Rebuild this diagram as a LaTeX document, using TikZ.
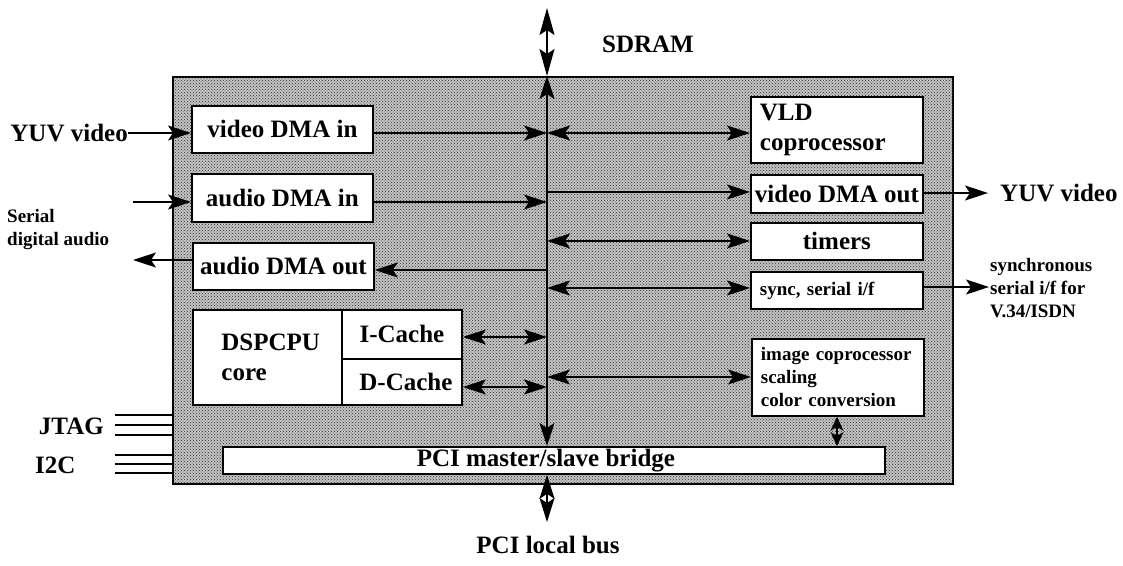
\documentclass[tikz,border=0pt]{standalone}
\usepackage{fontspec}
\setmainfont{Liberation Serif}
\usetikzlibrary{arrows.meta,patterns}

\begin{document}
\begin{tikzpicture}[x=1pt,y=-1pt,
  big/.style={font=\fontsize{25}{30}\selectfont\bfseries},
  small/.style={font=\fontsize{19}{23}\selectfont\bfseries},
  unit/.style={draw,line width=1.8pt,fill=white,inner sep=0pt,anchor=north west},
  tag/.style={inner sep=0pt},
  head/.tip={Stealth[length=23pt,width=15pt,inset=5pt]},
  link/.style={line width=1.4pt,-head},
  dlink/.style={line width=1.4pt,head-head},
  wire/.style={line width=1.4pt}
]
\useasboundingbox (0,0) rectangle (1123,565);

% chip outline with a halftone fill
\node[draw,line width=1.8pt,fill=black!24,inner sep=0pt,anchor=north west,
      minimum width=780pt,minimum height=407pt] (chip) at (172,76) {};
\fill[pattern=crosshatch dots,pattern color=black!80]
      ([shift={(1pt,-1pt)}]chip.north west) rectangle ([shift={(-1pt,1pt)}]chip.south east);

% left column units
\node[unit,big,minimum width=181pt,minimum height=47pt] (vin) at (191,105) {video DMA in};
\node[unit,big,minimum width=181pt,minimum height=48pt] (ain) at (191,173) {audio DMA in};
\node[unit,big,minimum width=181pt,minimum height=47pt] (aout) at (192,242) {audio DMA out};

% CPU core with caches
\node[unit,big,minimum width=149pt,minimum height=95pt,text width=120pt,align=left,
      inner xsep=0pt] (cpu) at (192,309) {\hspace*{14pt}DSPCPU\\\hspace*{14pt}core};
\node[unit,big,minimum width=120pt,minimum height=49pt] (icache) at (341,309) {I-Cache};
\node[unit,big,minimum width=120pt,minimum height=46pt] (dcache) at (341,358) {\hspace*{8pt}D-Cache};

% PCI bridge
\node[unit,big,minimum width=662pt,minimum height=27pt] (bridge) at (222,446) {\hspace*{-16pt}PCI master/slave bridge};

% right column units
\node[unit,big,minimum width=172pt,minimum height=66pt,text width=160pt,align=left,
      inner xsep=0pt] (vld) at (750,96) {\hspace*{3pt}VLD\\\hspace*{3pt}coprocessor};
\node[unit,big,minimum width=172pt,minimum height=38pt] (vout) at (750,174) {video DMA out};
\node[unit,big,minimum width=172pt,minimum height=37pt] (timers) at (750,222) {timers};
\node[unit,small,minimum width=172pt,minimum height=37pt,text width=160pt,align=left]
      (sync) at (750,271) {\hspace*{3pt}sync, serial i/f};
\node[unit,small,minimum width=172pt,minimum height=77pt,text width=160pt,align=left]
      (img) at (751,338) {\hspace*{3pt}image coprocessor\\\hspace*{3pt}scaling\\\hspace*{3pt}color conversion};

% internal bus
\coordinate (bustop) at (547,76);
\coordinate (sdtip) at (547,8);
\coordinate (pcitip) at (547,522);
\draw[line width=1.6pt,head-head] (bustop) -- (bustop |- bridge.north);
\draw[line width=1.2pt,{Stealth[length=27pt,width=15pt,inset=5pt]}-{Stealth[length=27pt,width=15pt,inset=5pt]}]
      (sdtip) -- (bustop);
\draw[line width=1.2pt,{Stealth[length=24pt,width=15pt,inset=5pt]}-{Stealth[length=24pt,width=15pt,inset=5pt]}]
      (bustop |- bridge.south) -- (pcitip);
\draw[line width=1.2pt,{Stealth[length=14pt,width=13pt,inset=4pt]}-{Stealth[length=14pt,width=13pt,inset=4pt]}]
      (img.south -| 837,0) -- (bridge.north -| 837,0);

% taps on the bus
\coordinate (t133) at (547,133);
\coordinate (t192) at (547,192);
\coordinate (t202) at (547,202);
\coordinate (t241) at (547,241);
\coordinate (t270) at (547,270);
\coordinate (t288) at (547,288);
\coordinate (t337) at (547,337);
\coordinate (t377) at (547,377);
\coordinate (t387) at (547,387);

\draw[link] (vin.east |- t133) -- (t133);
\draw[dlink] (t133) -- (vld.west |- t133);
\draw[link] (ain.east |- t202) -- (t202);
\draw[link] (t192) -- (vout.west |- t192);
\draw[link] (t270) -- (aout.east |- t270);
\draw[dlink] (t241) -- (timers.west |- t241);
\draw[dlink] (t288) -- (sync.west |- t288);
\draw[dlink] (icache.east |- t337) -- (t337);
\draw[dlink] (dcache.east |- t387) -- (t387);
\draw[dlink] (t377) -- (img.west |- t377);

% outside labels
\node[big,tag] (sdram) at (648,44) {SDRAM};
\node[big,tag] (pcibus) at (548,545) {PCI local bus};
\node[big,tag,anchor=east] (yuvin) at (128,133) {YUV video};
\node[small,tag,anchor=west,align=left] (sda) at (7,229) {Serial\\digital audio};
\node[big,tag,anchor=east] (jtag) at (104,426) {JTAG};
\node[big,tag,anchor=west] (itwoc) at (35,465) {I2C};
\node[big,tag,anchor=west,inner xsep=12pt] (yuvout) at (988,193) {YUV video};
\node[small,tag,anchor=west,align=left,inner xsep=1pt] (serlabel) at (989,288)
      {synchronous\\serial i/f for\\V.34/ISDN};

% external connections
\coordinate (ainsrc) at (133,202);
\coordinate (aoutdst) at (133,260);
\draw[link] (yuvin.east) -- ++(4,0) -- (vin.west |- yuvin.east);
\draw[link] (ainsrc) -- (ain.west |- ainsrc);
\draw[link] (aout.west |- aoutdst) -- (aoutdst);
\draw[link] (vout.east |- yuvout.west) -- (yuvout.west);
\draw[link] (sync.east |- 0,287) -- (serlabel.west |- 0,287);

% JTAG and I2C pins
\foreach \yy in {415,425,435,455,464,473}
  \draw[wire] (115,\yy) -- (chip.west |- 0,\yy);
\end{tikzpicture}
\end{document}
